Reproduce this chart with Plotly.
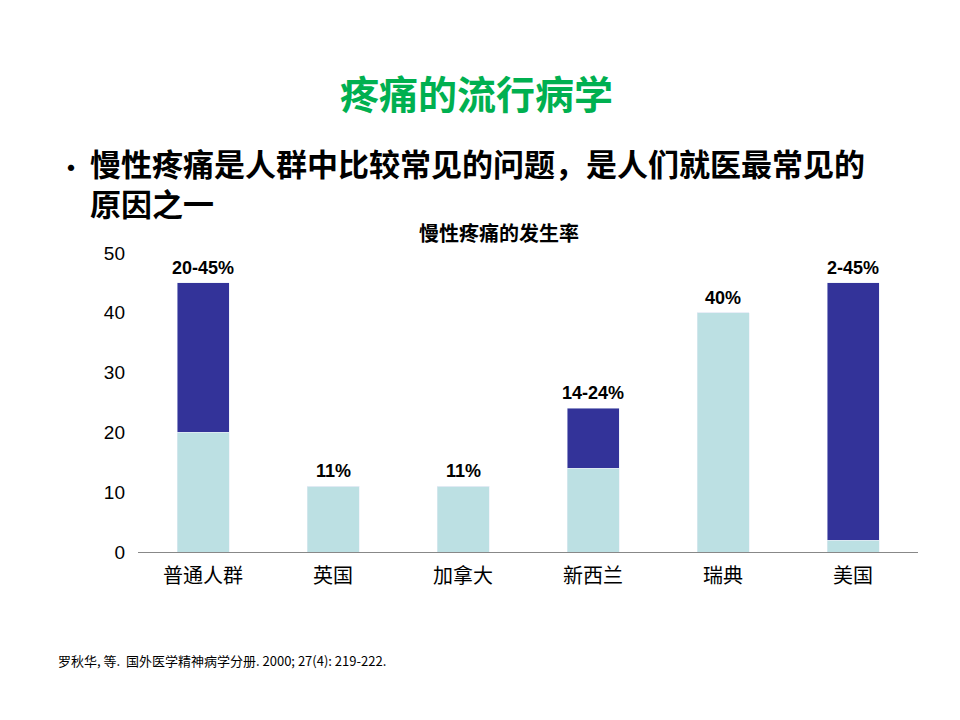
import plotly.graph_objects as go

categories = ["普通人群", "英国", "加拿大", "新西兰", "瑞典", "美国"]
low_values = [20, 11, 11, 14, 40, 2]
range_extra = [25, 0, 0, 10, 0, 43]
bar_labels = ["20-45%", "11%", "11%", "14-24%", "40%", "2-45%"]
y_ticks = [0, 10, 20, 30, 40, 50]

font_cn = "Noto Sans CJK SC, Arial, sans-serif"

fig = go.Figure()
fig.add_trace(go.Bar(x=categories, y=low_values, marker_color="#BCE0E3", width=0.4))
fig.add_trace(go.Bar(x=categories, y=range_extra, marker_color="#333399", width=0.4))

# range labels above each bar
for cat, lo, ex, lab in zip(categories, low_values, range_extra, bar_labels):
    fig.add_annotation(x=cat, y=lo + ex, text="<b>" + lab + "</b>", showarrow=False,
                       yanchor="bottom", yshift=3, font=dict(size=18, color="black", family="Arial"))

fig.update_layout(
    barmode="stack", showlegend=False, width=960, height=720,
    plot_bgcolor="white", paper_bgcolor="white",
    margin=dict(l=130, r=50, t=245, b=176),
    font=dict(family=font_cn, color="black"),
)
fig.update_yaxes(range=[0, 50], tickvals=y_ticks, showgrid=False, showline=False,
                 ticks="", tickfont=dict(size=19, family="Arial"), ticklabelstandoff=12)
fig.update_xaxes(showline=True, linecolor="#888888", linewidth=1, ticks="",
                 tickfont=dict(size=20, family=font_cn), ticklabelstandoff=6)

# map reference pixel positions to paper coordinates of the plot area
def paper_y(py):
    return (552 - py) / 299.0

def paper_x(px):
    return (px - 140) / 780.0

fig.add_annotation(xref="paper", yref="paper", x=paper_x(478), y=paper_y(92), text="<b>疼痛的流行病学</b>",
                   showarrow=False, font=dict(size=39, color="#00B050"), xanchor="center", yanchor="middle")
fig.add_annotation(xref="paper", yref="paper", x=paper_x(501), y=paper_y(232), text="<b>慢性疼痛的发生率</b>",
                   showarrow=False, font=dict(size=20), xanchor="center", yanchor="middle")
fig.add_annotation(xref="paper", yref="paper", x=paper_x(56), y=paper_y(166), text="•",
                   showarrow=False, font=dict(size=30), xanchor="left", yanchor="middle")
fig.add_annotation(xref="paper", yref="paper", x=paper_x(90), y=paper_y(182),
                   text="<b>慢性疼痛是人群中比较常见的问题，是人们就医最常见的<br>原因之一</b>",
                   showarrow=False, font=dict(size=31), xanchor="left", yanchor="middle", align="left")
fig.add_annotation(xref="paper", yref="paper", x=paper_x(58), y=paper_y(660),
                   text="罗秋华, 等.  国外医学精神病学分册. 2000; 27(4): 219-222.",
                   showarrow=False, font=dict(size=13), xanchor="left", yanchor="middle")

fig.write_html("out.html")
